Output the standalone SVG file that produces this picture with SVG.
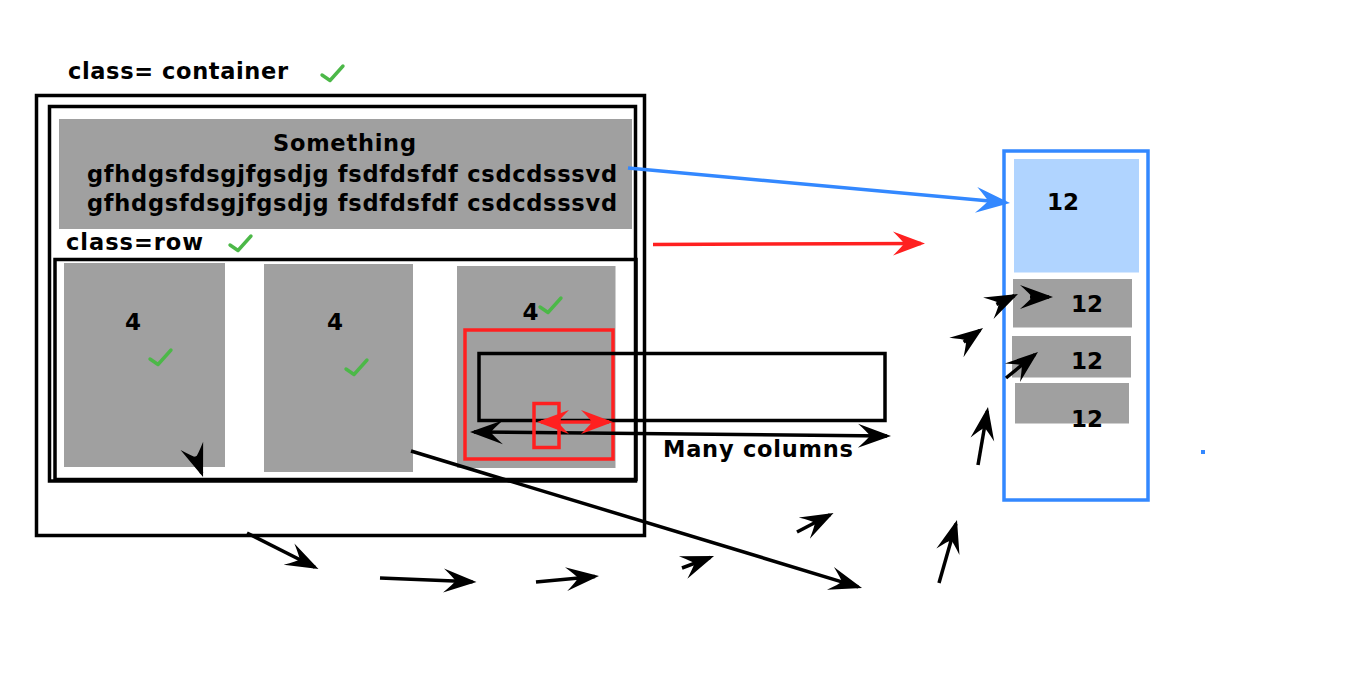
<svg xmlns="http://www.w3.org/2000/svg" width="1366" height="697" viewBox="0 0 1366 697">
<style>
  text { font-family: "DejaVu Sans", Verdana, sans-serif; font-weight: bold; fill: #000; }
  .t { font-size: 22.5px; }
  .n { font-size: 23px; }
  .box { fill: none; stroke: #000; stroke-width: 3.5; }
  .gray { fill: #a0a0a0; }
  .red { fill: none; stroke: #ff2020; stroke-width: 3.5; }
  .chk { fill: none; stroke: #4cb848; stroke-width: 3.4; stroke-linecap: round; stroke-linejoin: round; }
  .ln { fill: none; stroke: #000; stroke-width: 3.5; marker-end: url(#ah); }
</style>
<defs>
  <marker id="ah" markerUnits="userSpaceOnUse" orient="auto-start-reverse" markerWidth="40" markerHeight="30" refX="-4" refY="0" overflow="visible">
    <path d="M0,0 L-33,-12 Q-23,-3 -21,0 Q-23,3 -33,12 Z" fill="#000"/>
  </marker>
  <marker id="ahr" markerUnits="userSpaceOnUse" orient="auto-start-reverse" markerWidth="40" markerHeight="30" refX="-4" refY="0" overflow="visible">
    <path d="M0,0 L-32,-12 Q-23,-3 -21,0 Q-23,3 -32,12 Z" fill="#ff2020"/>
  </marker>
  <marker id="ahb" markerUnits="userSpaceOnUse" orient="auto" markerWidth="40" markerHeight="30" refX="-4" refY="0" overflow="visible">
    <path d="M0,0 L-34,-13 Q-24,-3 -22,0 Q-24,3 -34,13 Z" fill="#3388ff"/>
  </marker>
  <path id="check" d="M0,0 L8,5.5 L21,-9"/>
</defs>
<rect width="1366" height="697" fill="#fff"/>

<g id="container">
  <text class="t" x="68" y="79" textLength="220" lengthAdjust="spacing">class= container</text>
  <use href="#check" class="chk" x="322" y="75"/>
  <rect class="box" x="36.5" y="95.5" width="608" height="440"/>
  <rect class="box" x="49.5" y="106.5" width="586" height="374.5"/>
</g>

<g id="header">
  <rect class="gray" x="59" y="119" width="573" height="110"/>
  <text class="t" x="273" y="151" textLength="143" lengthAdjust="spacing">Something</text>
  <text class="t" x="87" y="182" textLength="530" lengthAdjust="spacing">gfhdgsfdsgjfgsdjg fsdfdsfdf csdcdsssvd</text>
  <text class="t" x="87" y="211" textLength="530" lengthAdjust="spacing">gfhdgsfdsgjfgsdjg fsdfdsfdf csdcdsssvd</text>
</g>

<g id="row">
  <text class="t" x="66" y="250" textLength="137" lengthAdjust="spacing">class=row</text>
  <use href="#check" class="chk" x="230" y="245"/>
  <rect class="box" x="55" y="259.5" width="581" height="220"/>
</g>

<g id="col1">
  <rect class="gray" x="64" y="263" width="161" height="204"/>
  <text class="n" x="125" y="329.5">4</text>
  <use href="#check" class="chk" x="150" y="359"/>
</g>

<g id="col2">
  <rect class="gray" x="264" y="264" width="149" height="208"/>
  <text class="n" x="327" y="329.5">4</text>
  <use href="#check" class="chk" x="346" y="369"/>
</g>

<g id="col3">
  <rect class="gray" x="457" y="266" width="158.5" height="202"/>
  <text class="n" x="522.5" y="320">4</text>
  <use href="#check" class="chk" x="540" y="307"/>
  <rect class="red" x="465" y="330" width="148" height="129"/>
</g>

<g id="many-columns">
  <rect class="box" x="479" y="353.5" width="406" height="67"/>
  <text class="t" x="663" y="457" textLength="190" lengthAdjust="spacing">Many columns</text>
</g>

<g id="stack">
  <rect x="1004" y="151" width="144" height="349" fill="none" stroke="#3388ff" stroke-width="3.5"/>
  <rect x="1014" y="159" width="125" height="113.5" fill="#b0d4ff"/>
  <text class="n" x="1047" y="210">12</text>
  <rect class="gray" x="1013" y="279" width="119" height="48.5"/>
  <text class="n" x="1071" y="311.5">12</text>
  <rect class="gray" x="1012" y="336" width="119" height="41.5"/>
  <text class="n" x="1071" y="369">12</text>
  <rect class="gray" x="1015" y="383" width="114" height="40.5"/>
  <text class="n" x="1071" y="427">12</text>
  <rect x="1201" y="450" width="4" height="4" fill="#3388ff"/>
</g>

<g id="connectors">
  <line x1="628" y1="168" x2="1006" y2="202.6" stroke="#3388ff" stroke-width="3.5" marker-end="url(#ahb)"/>
  <line x1="653" y1="244.5" x2="921" y2="243.5" stroke="#ff2020" stroke-width="3.5" marker-end="url(#ahr)"/>
  <line x1="474" y1="432" x2="887" y2="436" stroke="#000" stroke-width="3.5" marker-start="url(#ah)" marker-end="url(#ah)"/>
  <rect class="red" x="534" y="403.5" width="25" height="44"/>
  <line x1="541" y1="422" x2="609" y2="422" stroke="#ff2020" stroke-width="3.5" marker-start="url(#ahr)" marker-end="url(#ahr)"/>
  <line class="ln" x1="195.6" y1="456.3" x2="201.7" y2="473.2"/>
  <line class="ln" x1="411" y1="451" x2="858.2" y2="586.8" stroke-width="3"/>
  <line class="ln" x1="247" y1="533" x2="314.9" y2="567.2"/>
  <line class="ln" x1="380" y1="578" x2="472.5" y2="581.8"/>
  <line class="ln" x1="536" y1="582" x2="595" y2="576.4"/>
  <line class="ln" x1="682" y1="568" x2="710.3" y2="557.4"/>
  <line class="ln" x1="797" y1="532" x2="830" y2="514.8"/>
  <line class="ln" x1="996.4" y1="304.4" x2="1014.4" y2="295.7"/>
  <line class="ln" x1="1030" y1="297" x2="1049" y2="297"/>
  <line class="ln" x1="963.7" y1="342.2" x2="979.8" y2="330.4"/>
  <line class="ln" x1="1006" y1="378" x2="1034.9" y2="354.5"/>
  <line class="ln" x1="978" y1="465" x2="987.3" y2="411"/>
  <line class="ln" x1="939" y1="583" x2="955.9" y2="523.8"/>
</g>
</svg>
